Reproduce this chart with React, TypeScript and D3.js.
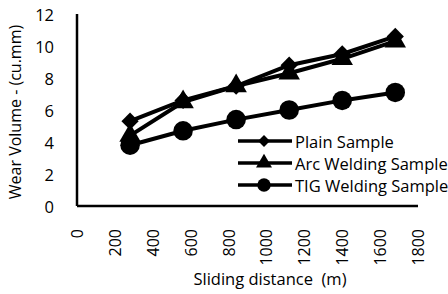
import React, { useEffect, useRef } from 'react';
import * as d3 from 'd3';

const distances = [280, 560, 840, 1120, 1400, 1680];
const plainSample = [5.3, 6.6, 7.5, 8.8, 9.5, 10.6];
const arcWelding = [4.4, 6.5, 7.5, 8.3, 9.2, 10.3];
const tigWelding = [3.8, 4.7, 5.4, 6.0, 6.6, 7.1];
const seriesNames = ['Plain Sample', 'Arc Welding Sample', 'TIG Welding Sample'];
const xTicks = [0, 200, 400, 600, 800, 1000, 1200, 1400, 1600, 1800];
const yTicks = [0, 2, 4, 6, 8, 10, 12];

const FONT = '"Open Sans", sans-serif';

const App = () => {
  const svgRef = useRef<SVGSVGElement>(null);

  useEffect(() => {
    const svg = d3.select(svgRef.current);
    svg.selectAll('*').remove();

    const x = d3.scaleLinear().domain([0, 1800]).range([77, 418]);
    const y = d3.scaleLinear().domain([0, 12]).range([206, 14]);

    const series = [
      { name: seriesNames[0], values: plainSample, marker: d3.symbolDiamond2, size: 190, legendSize: 90 },
      { name: seriesNames[1], values: arcWelding, marker: d3.symbolTriangle, size: 200, legendSize: 110 },
      { name: seriesNames[2], values: tigWelding, marker: d3.symbolCircle, size: 300, legendSize: 140 },
    ];

    // axes lines
    svg.append('line')
      .attr('x1', x(0)).attr('x2', x(0))
      .attr('y1', y(12)).attr('y2', y(0))
      .attr('stroke', '#000').attr('stroke-width', 2.5);
    svg.append('line')
      .attr('x1', x(0)).attr('x2', x(1800))
      .attr('y1', y(0)).attr('y2', y(0))
      .attr('stroke', '#000').attr('stroke-width', 2.5);

    // y tick labels
    svg.append('g').selectAll('text')
      .data(yTicks)
      .join('text')
      .attr('x', 54)
      .attr('y', d => y(d))
      .attr('text-anchor', 'end')
      .attr('dominant-baseline', 'central')
      .attr('font-family', FONT)
      .attr('font-size', 16.5)
      .attr('fill', '#000')
      .text(d => d);

    // x tick labels (rotated)
    svg.append('g').selectAll('text')
      .data(xTicks)
      .join('text')
      .attr('transform', d => `translate(${x(d)},229) rotate(-90)`)
      .attr('text-anchor', 'end')
      .attr('dominant-baseline', 'central')
      .attr('font-family', FONT)
      .attr('font-size', 16)
      .attr('fill', '#000')
      .text(d => d);

    // axis titles
    svg.append('text')
      .attr('transform', `translate(15,${(y(0) + y(12)) / 2 + 2}) rotate(-90)`)
      .attr('text-anchor', 'middle')
      .attr('dominant-baseline', 'central')
      .attr('font-family', FONT)
      .attr('font-size', 16)
      .text('Wear Volume - (cu.mm)');

    svg.append('text')
      .attr('x', 270)
      .attr('y', 285)
      .attr('text-anchor', 'middle')
      .attr('font-family', FONT)
      .attr('font-size', 16.5)
      .style('white-space', 'pre')
      .text('Sliding distance  (m)');

    const line = d3.line<number>()
      .x((d, i) => x(distances[i]))
      .y(d => y(d));

    series.forEach(s => {
      svg.append('path')
        .datum(s.values)
        .attr('fill', 'none')
        .attr('stroke', '#000')
        .attr('stroke-width', 4)
        .attr('stroke-linejoin', 'round')
        .attr('d', line);
      svg.append('g').selectAll('path')
        .data(s.values)
        .join('path')
        .attr('transform', (d, i) => `translate(${x(distances[i])},${y(d)})`)
        .attr('d', d3.symbol().type(s.marker).size(s.size)())
        .attr('fill', '#000');
    });

    // legend
    const legend = svg.append('g');
    series.forEach((s, i) => {
      const ly = 141 + i * 22;
      legend.append('line')
        .attr('x1', 238).attr('x2', 292)
        .attr('y1', ly).attr('y2', ly)
        .attr('stroke', '#000').attr('stroke-width', 3.5);
      legend.append('path')
        .attr('transform', `translate(264,${ly})`)
        .attr('d', d3.symbol().type(s.marker).size(s.legendSize)())
        .attr('fill', '#000');
      legend.append('text')
        .attr('x', 295)
        .attr('y', ly)
        .attr('dominant-baseline', 'central')
        .attr('font-family', FONT)
        .attr('font-size', 16.5)
        .text(s.name);
    });
  }, []);

  return (
    <svg
      ref={svgRef}
      width={448}
      height={294}
      style={{ position: 'absolute', left: 0, top: 0, background: '#fff' }}
    />
  );
};

export default App;
